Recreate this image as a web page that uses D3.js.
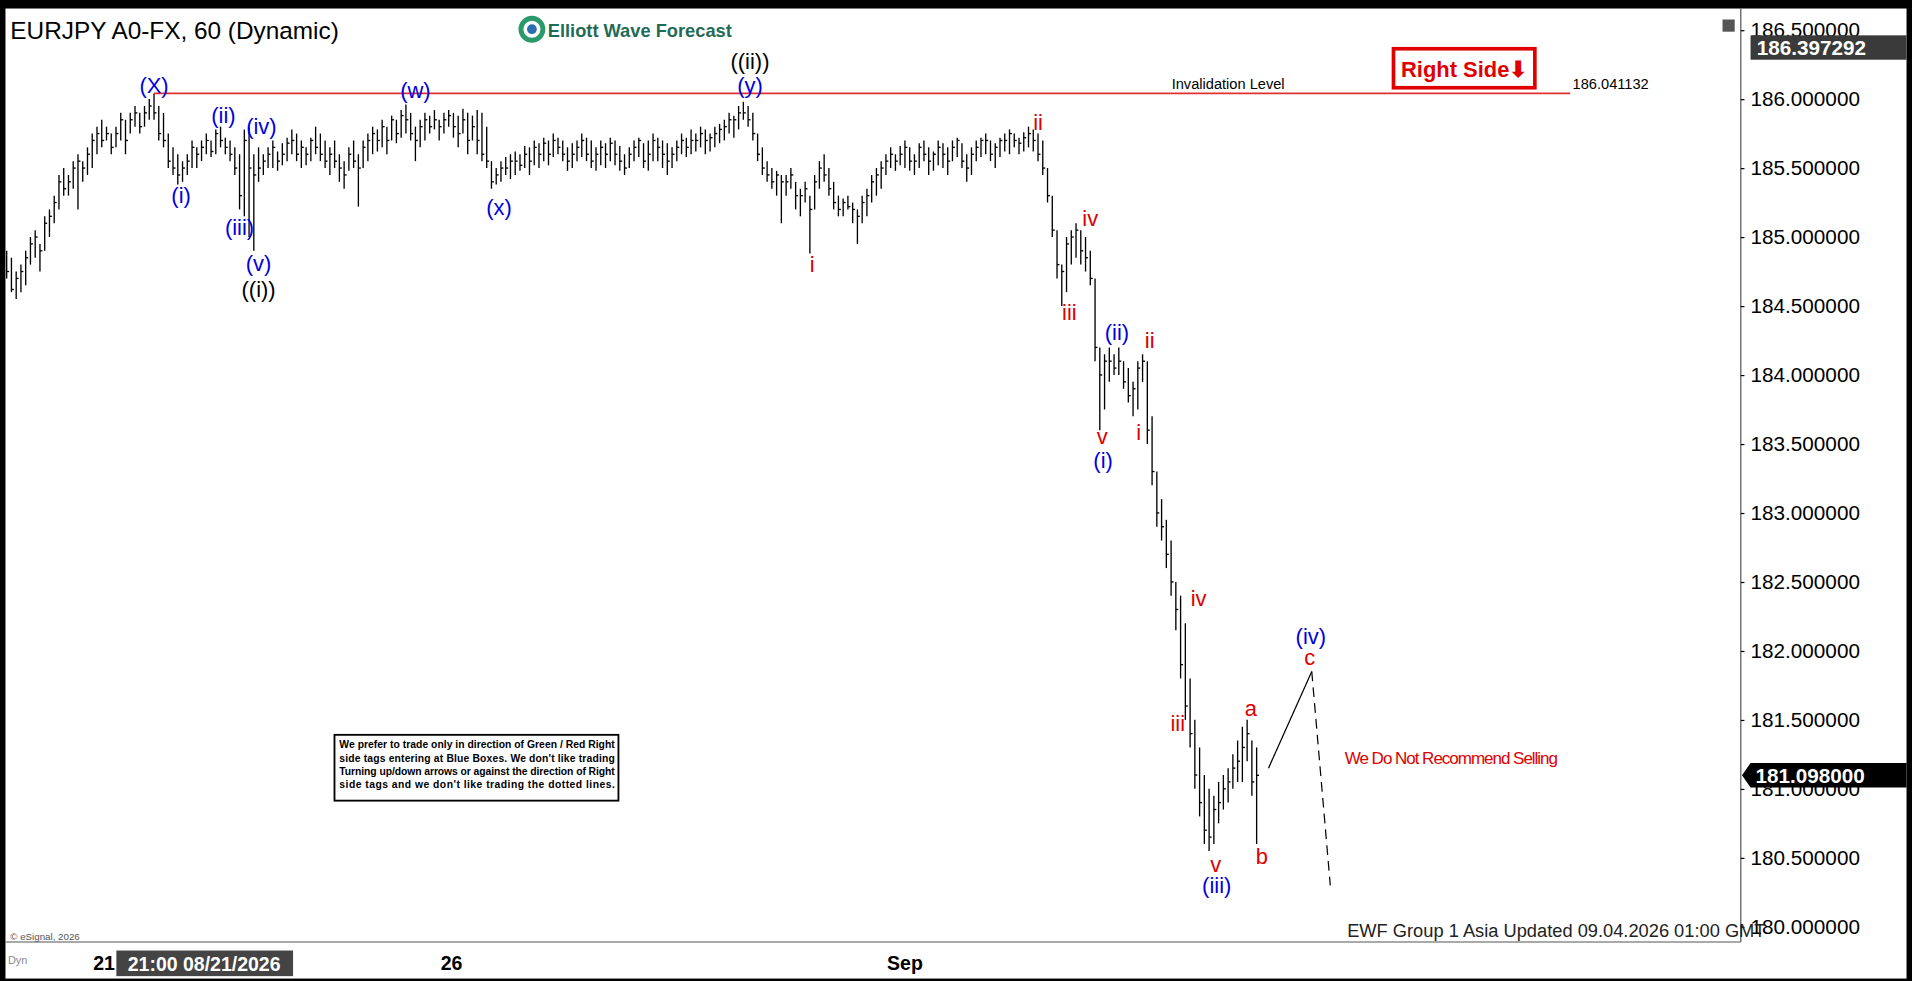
<!DOCTYPE html>
<html>
<head>
<meta charset="utf-8">
<script src="https://cdn.jsdelivr.net/npm/d3@7"></script>
<style>
  body { margin: 0; background: #000; overflow: hidden; }
  text { font-family: "Liberation Sans", Arial, sans-serif; }
</style>
</head>
<body>
<div id="chart"></div>
<script>
/* global d3 */

// hourly bars [high, low, close]
const bars = [
  [184.9,184.7,184.75],[184.85,184.6,184.62],[184.75,184.55,184.7],[184.8,184.6,184.75],[184.9,184.65,184.85],
  [185.0,184.8,184.95],[185.05,184.85,185.0],[184.95,184.75,184.9],[185.15,184.9,185.1],[185.2,185.0,185.15],
  [185.3,185.1,185.25],[185.45,185.2,185.4],[185.5,185.3,185.35],[185.45,185.3,185.4],[185.55,185.35,185.5],
  [185.6,185.2,185.55],[185.55,185.4,185.5],[185.65,185.45,185.6],[185.75,185.5,185.7],[185.8,185.6,185.75],
  [185.85,185.65,185.7],[185.8,185.7,185.75],[185.75,185.6,185.65],[185.8,185.65,185.75],[185.9,185.7,185.85],
  [185.85,185.6,185.7],[185.9,185.75,185.85],[185.95,185.8,185.9],[185.9,185.75,185.8],[185.95,185.8,185.9],
  [186.0,185.85,185.95],[186.04,185.85,185.9],[185.95,185.7,185.75],[185.9,185.65,185.7],[185.75,185.5,185.55],
  [185.65,185.45,185.5],[185.6,185.38,185.45],[185.55,185.4,185.5],[185.6,185.45,185.55],[185.7,185.5,185.65],
  [185.65,185.5,185.6],[185.7,185.55,185.65],[185.75,185.6,185.7],[185.7,185.58,185.62],[185.78,185.6,185.75],
  [185.8,185.65,185.7],[185.72,185.6,185.65],[185.7,185.55,185.6],[185.65,185.45,185.5],[185.6,185.2,185.3],
  [185.78,185.15,185.7],[185.8,185.0,185.5],[185.6,184.9,185.45],[185.65,185.4,185.5],[185.6,185.45,185.55],
  [185.65,185.5,185.6],[185.7,185.5,185.65],[185.62,185.48,185.55],[185.68,185.52,185.6],[185.72,185.55,185.68],
  [185.78,185.6,185.7],[185.75,185.55,185.6],[185.7,185.5,185.65],[185.65,185.52,185.6],[185.72,185.55,185.7],
  [185.8,185.6,185.65],[185.75,185.55,185.6],[185.7,185.5,185.55],[185.65,185.45,185.6],[185.7,185.5,185.55],
  [185.6,185.4,185.5],[185.55,185.35,185.45],[185.65,185.48,185.6],[185.7,185.5,185.55],[185.6,185.22,185.5],
  [185.7,185.5,185.65],[185.75,185.55,185.7],[185.8,185.6,185.75],[185.78,185.62,185.7],[185.85,185.65,185.8],
  [185.8,185.6,185.7],[185.88,185.7,185.85],[185.85,185.68,185.75],[185.92,185.72,185.88],[185.96,185.75,185.85],
  [185.9,185.7,185.75],[185.8,185.55,185.7],[185.85,185.65,185.8],[185.9,185.7,185.85],[185.88,185.75,185.8],
  [185.92,185.78,185.85],[185.85,185.7,185.8],[185.9,185.75,185.85],[185.92,185.8,185.88],[185.9,185.72,185.8],
  [185.88,185.65,185.75],[185.93,185.75,185.85],[185.9,185.6,185.7],[185.88,185.7,185.8],[185.92,185.6,185.7],
  [185.9,185.55,185.6],[185.8,185.5,185.55],[185.55,185.35,185.4],[185.5,185.38,185.45],[185.55,185.4,185.5],
  [185.58,185.45,185.5],[185.6,185.42,185.55],[185.62,185.45,185.55],[185.6,185.48,185.52],[185.66,185.5,185.6],
  [185.65,185.45,185.55],[185.7,185.52,185.65],[185.68,185.5,185.6],[185.72,185.55,185.68],[185.7,185.52,185.6],
  [185.75,185.58,185.7],[185.72,185.6,185.65],[185.7,185.55,185.6],[185.65,185.48,185.55],[185.68,185.5,185.6],
  [185.7,185.55,185.65],[185.75,185.58,185.7],[185.72,185.55,185.6],[185.7,185.5,185.55],[185.65,185.48,185.6],
  [185.7,185.52,185.65],[185.68,185.5,185.6],[185.72,185.55,185.68],[185.7,185.52,185.6],[185.66,185.48,185.55],
  [185.6,185.45,185.5],[185.65,185.5,185.6],[185.7,185.55,185.65],[185.72,185.58,185.7],[185.68,185.5,185.55],
  [185.7,185.48,185.6],[185.75,185.55,185.7],[185.72,185.55,185.65],[185.7,185.5,185.6],[185.68,185.45,185.55],
  [185.65,185.5,185.6],[185.7,185.55,185.65],[185.75,185.6,185.7],[185.72,185.58,185.65],[185.78,185.6,185.7],
  [185.75,185.62,185.7],[185.8,185.65,185.75],[185.78,185.6,185.7],[185.75,185.62,185.72],[185.8,185.65,185.75],
  [185.82,185.68,185.78],[185.85,185.7,185.8],[185.9,185.75,185.85],[185.88,185.72,185.85],[185.95,185.78,185.9],
  [185.98,185.85,185.9],[185.95,185.8,185.85],[185.9,185.7,185.75],[185.75,185.55,185.6],[185.65,185.45,185.5],
  [185.55,185.4,185.45],[185.5,185.35,185.4],[185.48,185.3,185.45],[185.45,185.1,185.4],[185.45,185.3,185.4],
  [185.5,185.35,185.45],[185.4,185.2,185.3],[185.35,185.15,185.3],[185.4,185.25,185.35],[185.3,184.88,185.2],
  [185.45,185.2,185.4],[185.55,185.35,185.5],[185.6,185.4,185.45],[185.5,185.3,185.35],[185.4,185.2,185.25],
  [185.3,185.15,185.2],[185.28,185.15,185.25],[185.3,185.2,185.22],[185.25,185.1,185.2],[185.2,184.95,185.15],
  [185.3,185.1,185.25],[185.35,185.15,185.3],[185.45,185.25,185.4],[185.5,185.3,185.45],[185.55,185.35,185.5],
  [185.6,185.45,185.55],[185.65,185.5,185.6],[185.6,185.48,185.55],[185.66,185.52,185.6],[185.7,185.5,185.65],
  [185.65,185.48,185.55],[185.6,185.45,185.55],[185.68,185.5,185.65],[185.7,185.55,185.6],[185.65,185.45,185.55],
  [185.62,185.48,185.6],[185.7,185.52,185.65],[185.68,185.5,185.6],[185.65,185.45,185.55],[185.7,185.55,185.65],
  [185.72,185.58,185.7],[185.68,185.5,185.55],[185.6,185.4,185.5],[185.65,185.45,185.6],[185.7,185.55,185.65],
  [185.72,185.58,185.7],[185.75,185.6,185.7],[185.7,185.55,185.6],[185.68,185.5,185.65],[185.72,185.58,185.7],
  [185.75,185.62,185.7],[185.78,185.6,185.75],[185.75,185.65,185.7],[185.72,185.6,185.68],[185.76,185.62,185.72],
  [185.8,185.65,185.75],[185.78,185.62,185.7],[185.75,185.55,185.6],[185.7,185.45,185.5],[185.5,185.25,185.3],
  [185.3,185.0,185.05],[185.05,184.7,184.8],[184.8,184.5,184.75],[185.0,184.6,184.95],[185.05,184.8,185.0],
  [185.1,184.85,185.05],[185.05,184.8,184.9],[185.0,184.75,184.85],[184.9,184.65,184.7],[184.7,184.1,184.2],
  [184.2,183.6,184.0],[184.15,183.75,184.1],[184.2,183.95,184.1],[184.15,184.0,184.05],[184.2,184.0,184.1],
  [184.1,183.9,183.95],[184.05,183.8,183.85],[183.95,183.7,183.9],[184.1,183.75,184.05],[184.15,183.95,184.1],
  [184.1,183.5,183.6],[183.7,183.2,183.3],[183.3,182.9,183.0],[183.1,182.8,182.9],[182.95,182.6,182.7],
  [182.8,182.4,182.5],[182.5,182.15,182.3],[182.4,181.8,181.9],[182.2,181.5,181.6],[181.8,181.3,181.4],
  [181.5,181.0,181.1],[181.3,180.8,180.9],[181.1,180.6,180.7],[181.0,180.55,180.65],[180.95,180.6,180.85],
  [181.05,180.75,180.9],[181.1,180.85,181.0],[181.15,180.9,181.05],[181.25,181.0,181.15],[181.35,181.05,181.2],
  [181.45,181.05,181.3],[181.5,181.2,181.4],[181.35,180.95,181.05],[181.3,180.6,181.098]
]

const priceTicks = [186.5, 186.0, 185.5, 185.0, 184.5, 184.0, 183.5, 183.0, 182.5, 182.0, 181.5, 181.0, 180.5, 180.0]
const timeTicks = [[20.5, '21'], [93.6, '26'], [189, 'Sep']]
const lastPrice = 181.098
const topPrice = 186.397292
const invalidation = 186.041132

// wave labels: [bar index, price, text, colour]
const waveLabels = [
  [31, 186.1, '(X)', 'blue'], [36.7, 185.3, '(i)', 'blue'], [45.6, 185.88, '(ii)', 'blue'],
  [49, 185.07, '(iii)', 'blue'], [53.6, 185.8, '(iv)', 'blue'], [53, 184.81, '(v)', 'blue'],
  [53, 184.62, '((i))', 'black'], [86, 186.06, '(w)', 'blue'], [103.6, 185.21, '(x)', 'blue'],
  [156.4, 186.27, '((ii))', 'black'], [156.4, 186.1, '(y)', 'blue'],
  [169.5, 184.8, 'i', 'red'], [217, 185.83, 'ii', 'red'], [223.6, 184.45, 'iii', 'red'],
  [228, 185.13, 'iv', 'red'], [230.5, 183.55, 'v', 'red'], [230.7, 183.38, '(i)', 'blue'],
  [233.6, 184.31, '(ii)', 'blue'], [240.5, 184.25, 'ii', 'red'], [238.2, 183.58, 'i', 'red'],
  [250.8, 182.38, 'iv', 'red'], [246.4, 181.47, 'iii', 'red'], [254.4, 180.45, 'v', 'red'],
  [254.6, 180.3, '(iii)', 'blue'], [261.8, 181.58, 'a', 'red'], [264.1, 180.51, 'b', 'red'],
  [274.4, 182.1, '(iv)', 'blue'], [274.2, 181.95, 'c', 'red']
]
const projSolid = [[265.5, 181.15], [274.6, 181.85]]
const projDashed = [[274.6, 181.85], [278.5, 180.3]]

const noteLines = [
  'We prefer to trade only in direction of Green / Red Right',
  'side tags entering at Blue Boxes. We don\'t like trading',
  'Turning up/down arrows or against the direction of Right',
  'side tags and we don\'t like trading the dotted lines.'
]

const W = 1568, H = 805
const svg = d3.select('#chart').append('svg')
  .attr('width', 1912).attr('height', 981)
  .attr('viewBox', `0 0 ${W} ${H}`)

svg.append('rect').attr('width', W).attr('height', H).attr('fill', '#000')
svg.append('rect').attr('x', 4).attr('y', 7).attr('width', W - 8).attr('height', H - 9).attr('fill', '#fff')

const x = d3.scaleLinear().domain([0, 1]).range([5, 8.9])
const y = d3.scaleLinear().domain([180, 186.5]).range([760.5, 24.7])
const colors = { blue: '#0000e0', red: '#e00000', black: '#000' }

// bars
const g = svg.append('g').attr('stroke', '#000').attr('stroke-width', 1.1)
g.selectAll('line.hl').data(bars).enter().append('line')
  .attr('x1', (d, i) => x(i)).attr('x2', (d, i) => x(i))
  .attr('y1', d => y(d[0])).attr('y2', d => y(d[1]))
g.selectAll('line.c').data(bars).enter().append('line')
  .attr('x1', (d, i) => x(i)).attr('x2', (d, i) => x(i) + 2)
  .attr('y1', d => y(d[2])).attr('y2', d => y(d[2]))

// invalidation level
svg.append('line').attr('x1', x(31)).attr('x2', 1288)
  .attr('y1', y(invalidation)).attr('y2', y(invalidation))
  .attr('stroke', '#e03030').attr('stroke-width', 1.3)
svg.append('text').attr('x', 961).attr('y', y(invalidation) - 4).attr('font-size', 12).text('Invalidation Level')
svg.append('text').attr('x', 1290).attr('y', y(invalidation) - 4).attr('font-size', 12).text('186.041132')

// right side box
svg.append('rect').attr('x', 1143).attr('y', 40).attr('width', 116).attr('height', 32)
  .attr('fill', '#fff').attr('stroke', '#e00000').attr('stroke-width', 3)
svg.append('text').attr('x', 1201).attr('y', 63).attr('text-anchor', 'middle')
  .attr('font-size', 18).attr('font-weight', 'bold').attr('fill', '#e00000').text('Right Side⬇')

// projection
const line = d3.line().x(d => x(d[0])).y(d => y(d[1]))
svg.append('path').attr('d', line(projSolid)).attr('stroke', '#000').attr('fill', 'none')
svg.append('path').attr('d', line(projDashed)).attr('stroke', '#000').attr('fill', 'none').attr('stroke-dasharray', '8,5')

// wave labels
svg.selectAll('text.w').data(waveLabels).enter().append('text')
  .attr('x', d => x(d[0])).attr('y', d => y(d[1]) + 6)
  .attr('text-anchor', 'middle').attr('font-size', 18)
  .attr('fill', d => colors[d[3]]).text(d => d[2])

svg.append('text').attr('x', 1103).attr('y', 627).attr('font-size', 14)
  .attr('fill', '#e00000').attr('textLength', 175).text('We Do Not Recommend Selling')

// note box
svg.append('rect').attr('x', 274).attr('y', 603).attr('width', 233).attr('height', 54)
  .attr('fill', '#fff').attr('stroke', '#000').attr('stroke-width', 1.5)
svg.selectAll('text.n').data(noteLines).enter().append('text')
  .attr('x', 278).attr('y', (d, i) => 614 + i * 11).attr('font-size', 8.5).attr('font-weight', 'bold')
  .attr('textLength', 226).text(d => d)
svg.append('text').attr('x', 278).attr('y', 647).attr('font-size', 8.5).attr('font-weight', 'bold')
  .text('')

// title and logo
svg.append('text').attr('x', 8).attr('y', 32).attr('font-size', 20).text('EURJPY A0-FX, 60 (Dynamic)')
svg.append('circle').attr('cx', 436).attr('cy', 24).attr('r', 9).attr('fill', 'none')
  .attr('stroke', '#2a9a6a').attr('stroke-width', 4)
svg.append('circle').attr('cx', 436).attr('cy', 24).attr('r', 4).attr('fill', '#2a6fb0')
svg.append('text').attr('x', 449).attr('y', 30).attr('font-size', 15).attr('font-weight', 'bold')
  .attr('fill', '#1f6b55').text('Elliott Wave Forecast')

// price axis
svg.append('line').attr('x1', 1428).attr('x2', 1428).attr('y1', 7).attr('y2', 773).attr('stroke', '#555')
const yAxis = d3.axisRight(y).tickValues(priceTicks).tickSize(3).tickFormat(d3.format('.6f'))
const ya = svg.append('g').attr('transform', 'translate(1428,0)').call(yAxis)
ya.select('.domain').remove()
ya.selectAll('text').attr('font-size', 17).attr('font-family', '"Liberation Sans", Arial')
  .attr('fill', '#000').attr('x', 8)

// top and last price boxes
svg.append('rect').attr('x', 1436).attr('y', 29).attr('width', 128).attr('height', 20).attr('fill', '#3a3a3a')
svg.append('text').attr('x', 1441).attr('y', 45).attr('font-size', 17).attr('font-weight', 'bold')
  .attr('fill', '#fff').text(d3.format('.6f')(topPrice))
svg.append('path').attr('d', `M1429,${y(lastPrice)} L1436,${y(lastPrice) - 10} L1564,${y(lastPrice) - 10} L1564,${y(lastPrice) + 10} L1436,${y(lastPrice) + 10} Z`)
  .attr('fill', '#000')
svg.append('text').attr('x', 1440).attr('y', y(lastPrice) + 6).attr('font-size', 17).attr('font-weight', 'bold')
  .attr('fill', '#fff').text(d3.format('.6f')(lastPrice))
svg.append('rect').attr('x', 1413).attr('y', 16).attr('width', 10).attr('height', 10).attr('fill', '#555')

// time axis
svg.append('line').attr('x1', 4).attr('x2', 1428).attr('y1', 773).attr('y2', 773).attr('stroke', '#555')
svg.selectAll('text.t').data(timeTicks).enter().append('text')
  .attr('x', d => x(d[0])).attr('y', 796).attr('text-anchor', 'middle')
  .attr('font-size', 16).attr('font-weight', 'bold').text(d => d[1])
svg.append('rect').attr('x', 95).attr('y', 780).attr('width', 145).attr('height', 21).attr('fill', '#444')
svg.append('text').attr('x', 167).attr('y', 797).attr('text-anchor', 'middle').attr('font-size', 16)
  .attr('font-weight', 'bold').attr('fill', '#fff').text('21:00 08/21/2026')
svg.append('text').attr('x', 6).attr('y', 791).attr('font-size', 9).attr('fill', '#888').text('Dyn')

svg.append('text').attr('x', 8).attr('y', 771).attr('font-size', 8).attr('fill', '#555').text('© eSignal, 2026')
svg.append('text').attr('x', 1105).attr('y', 769).attr('font-size', 15).attr('fill', '#222')
  .text('EWF Group 1 Asia Updated 09.04.2026 01:00 GMT')
</script>
</body>
</html>
